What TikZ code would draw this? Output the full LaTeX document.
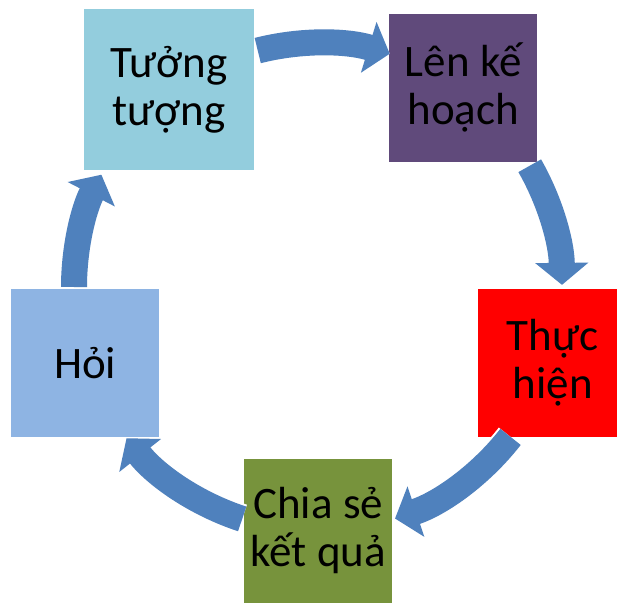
\documentclass[tikz,border=0pt]{standalone}
\usepackage{fontspec}
\setmainfont{Carlito}
\usetikzlibrary{arrows.meta,calc}
\definecolor{cT}{HTML}{93CDDD}
\definecolor{cL}{HTML}{604A7B}
\definecolor{cTh}{HTML}{FF0000}
\definecolor{cH}{HTML}{8EB4E3}
\definecolor{cC}{HTML}{77933C}
\definecolor{arrowblue}{HTML}{4F81BD}
\begin{document}
\begin{tikzpicture}[x=1pt,y=1pt,
  box/.style={draw=none, inner sep=0pt, anchor=south west, align=center,
    font=\fontsize{45}{48}\selectfont, text=black},
  cyc/.style={line width=26pt, draw=arrowblue, -{Triangle[width=52pt,length=22pt]},
    preaction={draw=white, line width=30pt, -{Triangle[width=58pt,length=25pt]}}}
]
\useasboundingbox (0,0) rectangle (617,603);
\fill[white] (0,0) rectangle (617,603);
% boxes
\node[box, fill=cT,  minimum width=170pt, minimum height=161pt] (t)  at (84,433)  {Tưởng\\tượng};
\node[box, fill=cL,  minimum width=148pt, minimum height=148pt] (l)  at (389,441) {Lên kế\\hoạch};
\node[box, fill=cTh, minimum width=148pt, minimum height=148pt] (th) at (478,166) {\hspace*{1pt}Thực\\\hspace*{1pt}hiện};
\node[box, fill=cH,  minimum width=148pt, minimum height=148pt] (h)  at (11,166)  {Hỏi};
\node[box, fill=cC,  minimum width=148pt, minimum height=144pt] (c)  at (244,0)   {Chia sẻ\\kết quả};
% cycle arrows
\coordinate (ctr) at (318,316);
\draw[cyc] ($(ctr)+(104.3:244)$) arc[start angle=104.3, end angle=72.9, radius=244];
\draw[cyc] ($(ctr)+(29.8:244)$) arc[start angle=29.8, end angle=0.5, radius=244];
\draw[cyc] ($(ctr)+(-37.9:244)$) arc[start angle=-37.9, end angle=-71.6, radius=244];
\draw[cyc] ($(ctr)+(-108.1:244)$) arc[start angle=-108.1, end angle=-141.7, radius=244];
\draw[cyc] ($(ctr)+(180:244)$) arc[start angle=180, end angle=152.6, radius=244];
\end{tikzpicture}
\end{document}
